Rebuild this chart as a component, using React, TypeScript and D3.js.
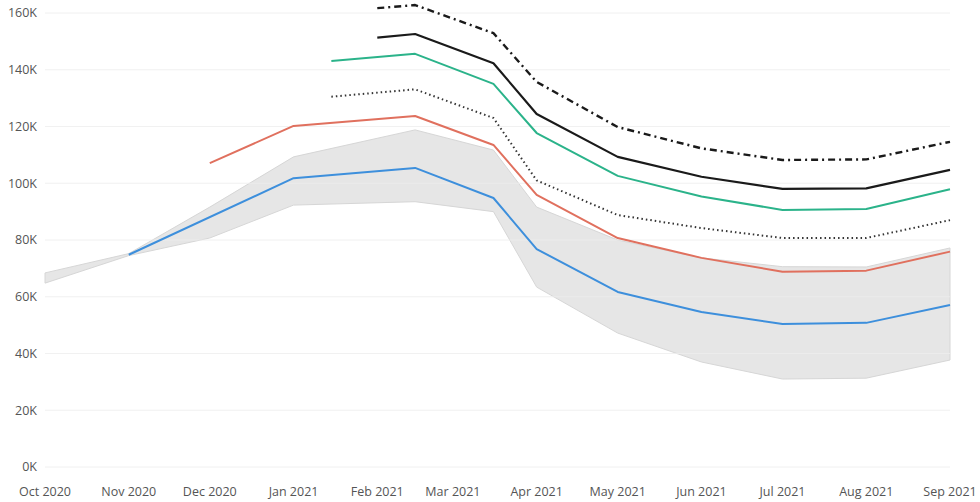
import React from "react";
import * as d3 from "d3";

const dates = [
  "2020-10-01", "2020-11-01", "2020-12-01", "2021-01-01", "2021-01-15", "2021-02-01",
  "2021-02-15", "2021-03-16", "2021-04-01", "2021-05-01", "2021-06-01", "2021-07-01",
  "2021-08-01", "2021-09-01",
];
type V = number | null;
const actual: V[] = [null, 74.8, null, 101.8, null, null, 105.4, 94.8, 76.8, 61.7, 54.6, 50.4, 50.8, 57.1];
const bandHigh: V[] = [68.4, 75.2, 91.6, 109.3, null, null, 118.8, 111.7, 91.6, 80.0, 73.7, 70.6, 70.5, 77.2];
const bandLow: V[] = [64.8, 74.5, 80.7, 92.3, null, null, 93.5, 90.0, 63.4, 47.2, 37.0, 31.0, 31.3, 37.7];
const redSeries: V[] = [null, null, 107.1, 120.2, null, null, 123.7, 113.5, 95.9, 80.7, 73.7, 68.8, 69.2, 75.9];
const dottedSeries: V[] = [null, null, null, null, 130.5, null, 133.1, 123.0, 101.0, 88.8, 84.2, 80.7, 80.7, 87.0];
const greenSeries: V[] = [null, null, null, null, 143.1, null, 145.6, 135.0, 117.7, 102.6, 95.3, 90.6, 90.9, 97.9];
const blackSeries: V[] = [null, null, null, null, null, 151.3, 152.6, 142.3, 124.4, 109.3, 102.3, 98.0, 98.2, 104.7];
const dashDotSeries: V[] = [null, null, null, null, null, 161.7, 162.8, 152.9, 135.7, 119.8, 112.3, 108.2, 108.4, 114.6];
const yTicks = [0, 20, 40, 60, 80, 100, 120, 140, 160];
const monthTicks = [
  "2020-10-01", "2020-11-01", "2020-12-01", "2021-01-01", "2021-02-01", "2021-03-01",
  "2021-04-01", "2021-05-01", "2021-06-01", "2021-07-01", "2021-08-01", "2021-09-01",
];

const W = 980;
const H = 502;
const parse = (s: string) => new Date(s + "T00:00:00Z");

export default function App() {
  const x = d3.scaleUtc().domain([parse("2020-10-01"), parse("2021-09-01")]).range([45, 950]);
  const y = d3.scaleLinear().domain([0, 160]).range([467, 13]);
  const fmt = d3.utcFormat("%b %Y");
  const font = "'Open Sans', 'Noto Sans', sans-serif";

  const pts = (arr: V[]) =>
    dates.map((d, i) => ({ d: parse(d), v: arr[i] })).filter((p) => p.v !== null) as { d: Date; v: number }[];

  const line = d3
    .line<{ d: Date; v: number }>()
    .x((p) => x(p.d))
    .y((p) => y(p.v));

  const bandPts = dates
    .map((d, i) => ({ d: parse(d), hi: bandHigh[i], lo: bandLow[i] }))
    .filter((p) => p.hi !== null && p.lo !== null) as { d: Date; hi: number; lo: number }[];
  const area = d3
    .area<{ d: Date; hi: number; lo: number }>()
    .x((p) => x(p.d))
    .y0((p) => y(p.lo))
    .y1((p) => y(p.hi));

  const series = [
    { data: dashDotSeries, color: "#1a1a1a", width: 2.4, dash: "7,4,2,4" },
    { data: blackSeries, color: "#1a1a1a", width: 2.2, dash: undefined },
    { data: greenSeries, color: "#2bb38a", width: 2, dash: undefined },
    { data: dottedSeries, color: "#333333", width: 2, dash: "1.5,3" },
    { data: redSeries, color: "#e0705e", width: 2, dash: undefined },
    { data: actual, color: "#3d8fdc", width: 2, dash: undefined },
  ];

  return (
    <div style={{ position: "fixed", left: 0, top: 0, width: W, height: H, background: "#fff" }}>
      <svg width={W} height={H} style={{ display: "block" }}>
        <path d={area(bandPts) || ""} fill="#e6e6e6" stroke="#d6d6d6" strokeWidth={1} />
        {yTicks.map((t) => (
          <g key={t}>
            <line x1={45} x2={950} y1={y(t)} y2={y(t)} stroke="#eeeeee" strokeWidth={1} opacity={0.8} />
            <text x={37} y={y(t)} dy="0.35em" textAnchor="end" fontFamily={font} fontSize={12.5} fill="#555">
              {t}K
            </text>
          </g>
        ))}
        {series.map((s, i) => (
          <path
            key={i}
            d={line(pts(s.data)) || ""}
            fill="none"
            stroke={s.color}
            strokeWidth={s.width}
            strokeDasharray={s.dash}
            strokeLinejoin="round"
          />
        ))}
        {monthTicks.map((m) => (
          <text key={m} x={x(parse(m))} y={492} dy="0.35em" textAnchor="middle" fontFamily={font} fontSize={12.5} fill="#555">
            {fmt(parse(m))}
          </text>
        ))}
      </svg>
    </div>
  );
}
